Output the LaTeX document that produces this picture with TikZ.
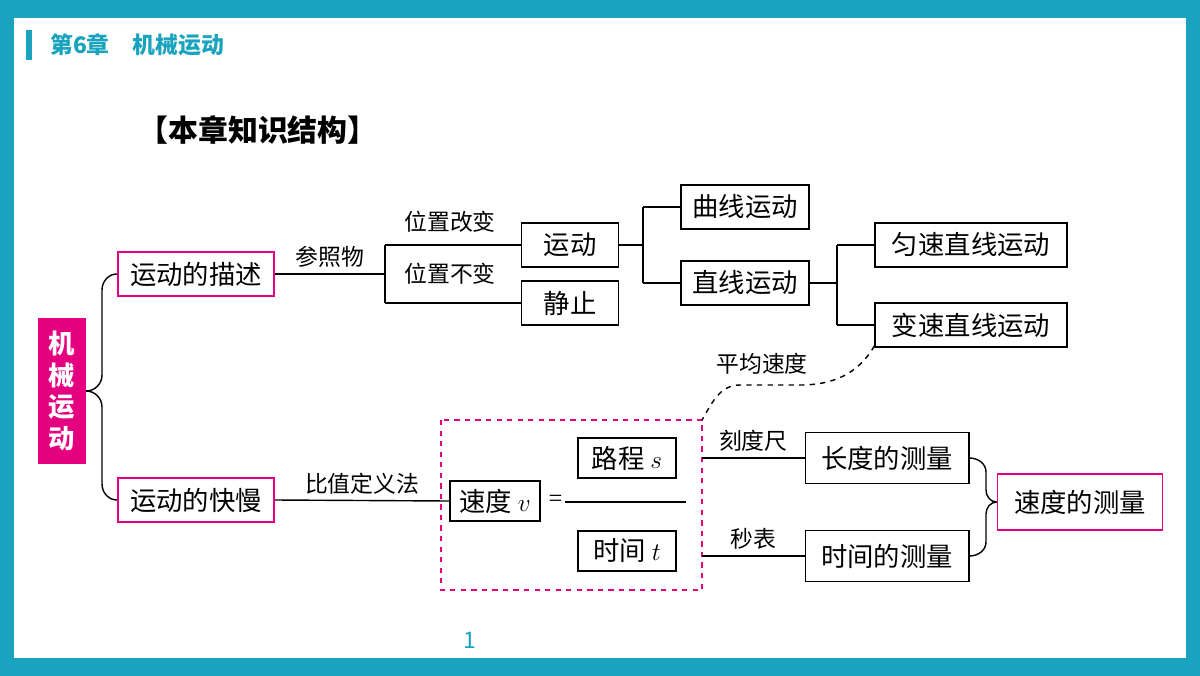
\documentclass[tikz,border=0pt]{standalone}
\usepackage{fontspec}
\setmainfont{Liberation Serif}
\newfontfamily\cjk{Noto Sans CJK SC}
\usetikzlibrary{positioning}
\definecolor{teal1}{HTML}{1AA3BE}
\definecolor{mag}{HTML}{E4007F}
\tikzset{
  box/.style={draw,line width=0.9pt,minimum height=25pt,inner xsep=3pt,font=\cjk\fontsize{15}{17}\selectfont},
  mbox/.style={box,draw=mag},
  lbl/.style={font=\cjk\fontsize{13}{15}\selectfont},
  ln/.style={line width=0.8pt}
}
\begin{document}
\begin{tikzpicture}[x=0.02cm,y=-0.02cm]
\fill[teal1] (0,0) rectangle (1200,676);
\fill[white] (14,18) rectangle (1186,658);
\fill[teal1] (26,30) rectangle (32,60);
\node[anchor=west,text=teal1,font=\cjk\bfseries\fontsize{13}{15}\selectfont] (ch) at (44,45) {第6章\quad 机械运动};
\node[font=\cjk\bfseries\fontsize{17}{19}\selectfont] (title) at (258,130) {【本章知识结构】};
\node[fill=mag,text=white,minimum width=27pt,minimum height=83pt,inner sep=1pt,align=center,font=\cjk\bfseries\fontsize{15}{18}\selectfont] (root) at (62,391) {机\\械\\运\\动};
\node[mbox,minimum width=89pt] (desc) at (196,274) {运动的描述};
\node[mbox,minimum width=89pt] (fast) at (196,500) {运动的快慢};
\draw[ln] (desc.west) to[out=180,in=90] (102,290) -- (102,375) to[out=-90,in=0] (root.east);
\draw[ln] (fast.west) to[out=180,in=-90] (102,484) -- (102,407) to[out=90,in=0] (root.east);
% 运动的描述
\node[box,minimum width=55pt] (move) at (570,245) {运动};
\node[box,minimum width=55pt] (still) at (570,303) {静止};
\coordinate (ref) at (385,274);
\draw[ln] (desc.east) -- node[lbl,above]{参照物} (ref);
\draw[ln] (385,245) -- (385,303);
\draw[ln] (385,245) -- (move.west);
\draw[ln] (385,303) -- (still.west);
\node[lbl] (chg) at (450,222) {位置改变};
\node[lbl] (same) at (450,274) {位置不变};
\node[box,minimum width=73pt] (curve) at (745,207) {曲线运动};
\node[box,minimum width=73pt] (line) at (745,283) {直线运动};
\draw[ln] (move.east) -- (643,245);
\draw[ln] (643,207) -- (643,283);
\draw[ln] (643,207) -- (curve.west);
\draw[ln] (643,283) -- (line.west);
\node[box,minimum width=109pt] (unif) at (971,245) {匀速直线运动};
\node[box,minimum width=109pt] (var) at (971,325) {变速直线运动};
\draw[ln] (line.east) -- (837,283);
\draw[ln] (837,245) -- (837,325);
\draw[ln] (837,245) -- (unif.west);
\draw[ln] (837,325) -- (var.west);
% 运动的快慢
\draw[mag,dashed,line width=0.9pt] (441,420) rectangle (702,590);
\coordinate (dtr) at (702,420);
\draw[ln,dashed] (var.south west) ++(0,-2) to[out=-120,in=0] (800,385) -- (740,385) to[out=180,in=60] (dtr);
\node[lbl] (avg) at (762,364) {平均速度};
\node[box,minimum width=51pt,minimum height=23pt] (v) at (495,501) {速度 $v$};
\node[font=\fontsize{14}{16}\selectfont,right=1pt of v] (eq) {=};
\draw[ln] (fast.east) -- node[lbl,above]{比值定义法} (v.west);
\draw[ln] (565,502) -- (686,502);
\node[box,minimum width=56pt,minimum height=23pt] (s) at (627,458) {路程 $s$};
\node[box,minimum width=56pt,minimum height=23pt] (t) at (627,551) {时间 $t$};
\node[box,minimum width=93pt,minimum height=29pt] (len) at (887,458) {长度的测量};
\node[box,minimum width=93pt,minimum height=29pt] (tim) at (887,556) {时间的测量};
\coordinate (ls) at (702,458);
\coordinate (lt) at (702,556);
\draw[ln] (ls) -- node[lbl,above]{刻度尺} (len.west);
\draw[ln] (lt) -- node[lbl,above]{秒表} (tim.west);
\node[mbox,minimum width=94pt,minimum height=32pt] (meas) at (1080,502) {速度的测量};
\draw[ln] (len.east) to[out=0,in=90] (986,472) -- (986,490) to[out=-90,in=180] (meas.west);
\draw[ln] (tim.east) to[out=0,in=-90] (986,542) -- (986,514) to[out=90,in=180] (meas.west);
\node[text=teal1,font=\cjk\fontsize{13}{15}\selectfont] (pg) at (470,640) {1};
\end{tikzpicture}
\end{document}
